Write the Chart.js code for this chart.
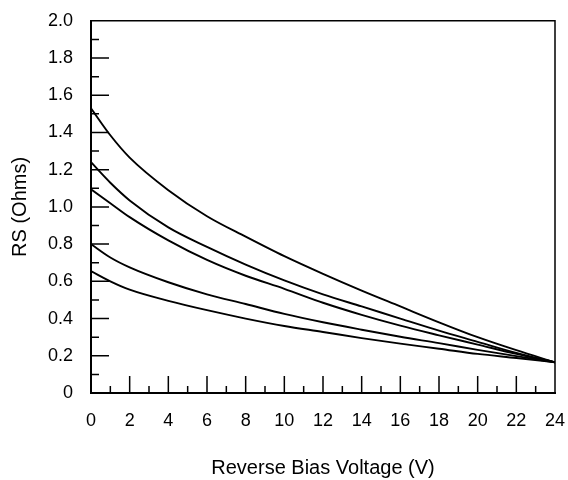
<!DOCTYPE html>
<html>
<head>
<meta charset="utf-8">
<script src="https://cdn.jsdelivr.net/npm/chart.js@4"></script>
<style>
  html, body { margin: 0; padding: 0; background: #fff; }
  #wrap { width: 568px; height: 480px; }
</style>
</head>
<body>
<div id="wrap"><canvas id="rsChart" width="568" height="480"></canvas></div>
<script>
// Reverse bias voltage (V) at which each curve was read
const voltages = [0, 1, 2, 4, 6, 8, 10, 12, 14, 16, 18, 20, 22, 24];

// RS (Ohms), one array per curve, read top to bottom
const rsCurve1 = [1.53, 1.385, 1.265, 1.09, 0.95, 0.84, 0.735, 0.64, 0.55, 0.465, 0.38, 0.30, 0.23, 0.165];
const rsCurve2 = [1.24, 1.13, 1.035, 0.89, 0.785, 0.69, 0.605, 0.53, 0.465, 0.40, 0.335, 0.275, 0.215, 0.165];
const rsCurve3 = [1.095, 1.02, 0.945, 0.82, 0.715, 0.63, 0.56, 0.485, 0.42, 0.362, 0.31, 0.26, 0.21, 0.165];
const rsCurve4 = [0.80, 0.728, 0.675, 0.595, 0.53, 0.478, 0.425, 0.38, 0.34, 0.302, 0.268, 0.232, 0.198, 0.165];
const rsCurve5 = [0.655, 0.60, 0.555, 0.495, 0.445, 0.40, 0.36, 0.328, 0.295, 0.265, 0.238, 0.21, 0.188, 0.165];

const xTitle = 'Reverse Bias Voltage (V)';
const yTitle = 'RS (Ohms)';

const allCurves = [rsCurve1, rsCurve2, rsCurve3, rsCurve4, rsCurve5];

const datasets = allCurves.map((curve, idx) => ({
    label: `Curve ${idx + 1}`,
    data: curve.map((rs, i) => ({ x: voltages[i], y: rs })),
    borderColor: '#000',
    borderWidth: 1.9,
    pointRadius: 0,
    fill: false,
    cubicInterpolationMode: 'monotone'
}));

// inward tick marks (major + minor) and the top/right frame
const frameTicks = {
    id: 'frameTicks',
    afterDatasetsDraw(chart) {
        const { ctx, chartArea, scales } = chart;
        const xs = scales.x, ys = scales.y;
        ctx.save();
        ctx.strokeStyle = '#000';
        ctx.lineWidth = 1.5;
        ctx.beginPath();
        for (let v = 0; v <= 20; v++) {
            const py = ys.getPixelForValue(v / 10);
            const len = v % 2 === 0 ? 18 : 8;
            ctx.moveTo(chartArea.left, py);
            ctx.lineTo(chartArea.left + len, py);
        }
        for (let v = 0; v <= 24; v++) {
            const px = xs.getPixelForValue(v);
            const len = v % 2 === 0 ? 17 : 7;
            ctx.moveTo(px, chartArea.bottom);
            ctx.lineTo(px, chartArea.bottom - len);
        }
        ctx.moveTo(chartArea.left, chartArea.top);
        ctx.lineTo(chartArea.right, chartArea.top);
        ctx.lineTo(chartArea.right, chartArea.bottom);
        ctx.stroke();
        ctx.restore();
    }
};

new Chart(document.getElementById('rsChart').getContext('2d'), {
    type: 'line',
    data: { datasets },
    plugins: [frameTicks],
    options: {
        responsive: false,
        animation: false,
        layout: { padding: { left: 0, top: 14, right: 13, bottom: 0 } },
        scales: {
            x: {
                type: 'linear',
                min: 0,
                max: 24,
                grid: { display: false },
                border: { display: true, color: '#000', width: 2 },
                ticks: {
                    stepSize: 2,
                    padding: 9,
                    color: '#000',
                    font: { family: 'Liberation Sans', size: 18 }
                },
                title: {
                    display: true,
                    text: xTitle,
                    color: '#000',
                    padding: { top: 0, bottom: 0 },
                    font: { family: 'Liberation Sans', size: 20 }
                },
                afterFit: scale => {
                    scale.height = 87;
                    scale.paddingLeft = 0;
                    scale.paddingRight = 0;
                }
            },
            y: {
                min: 0,
                max: 2,
                grid: { display: false },
                border: { display: true, color: '#000', width: 2 },
                ticks: {
                    stepSize: 0.2,
                    padding: 10,
                    color: '#000',
                    font: { family: 'Liberation Sans', size: 18 },
                    callback: v => (Math.abs(v) < 1e-9 ? '0' : v.toFixed(1))
                },
                title: {
                    display: true,
                    text: yTitle,
                    color: '#000',
                    padding: { top: 8, bottom: 0 },
                    font: { family: 'Liberation Sans', size: 20 }
                },
                afterFit: scale => { scale.width = 91; }
            }
        },
        plugins: {
            legend: { display: false },
            tooltip: { enabled: false }
        }
    }
});
</script>
</body>
</html>
